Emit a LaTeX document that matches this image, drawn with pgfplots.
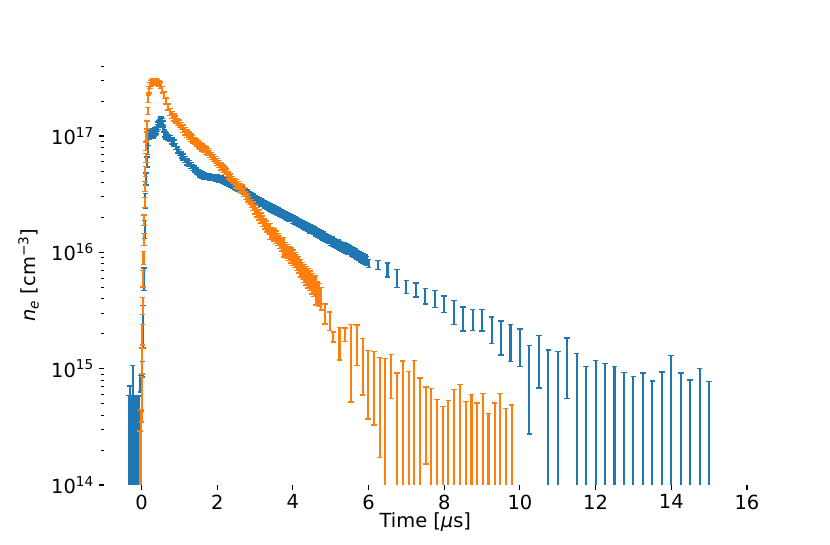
\documentclass[border=0pt]{standalone}
\usepackage{pgfplots}
\pgfplotsset{compat=1.18}
\usepackage{pgfplotstable}
\usepackage{fontspec}
\setmainfont{DejaVu Sans}
\definecolor{cblue}{RGB}{31,119,180}
\definecolor{corange}{RGB}{255,127,14}

% blue, densely sampled part: t, n_e, relative error
\pgfplotstableread{
t n r
-0.03 7.5e14 0.16
0.00 6.5e14 0.34
0.02 1.0e15 0.15
0.04 2.5e15 0.40
0.06 6.0e15 0.22
0.08 1.6e16 0.18
0.10 2.8e16 0.14
0.12 4.3e16 0.12
0.14 6.0e16 0.10
0.16 7.6e16 0.09
0.18 9.0e16 0.08
0.20 1.02e17 0.08
0.22 1.05e17 0.08
0.24 1.06e17 0.09
0.26 1.05e17 0.09
0.28 1.05e17 0.09
0.30 1.06e17 0.09
0.32 1.07e17 0.09
0.34 1.08e17 0.08
0.36 1.10e17 0.08
0.38 1.11e17 0.07
0.40 1.13e17 0.07
0.42 1.18e17 0.07
0.44 1.23e17 0.07
0.46 1.27e17 0.06
0.48 1.31e17 0.06
0.50 1.35e17 0.06
0.52 1.37e17 0.06
0.54 1.34e17 0.06
0.56 1.27e17 0.06
0.58 1.15e17 0.06
0.60 1.06e17 0.06
0.62 1.03e17 0.06
0.65 1.00e17 0.06
0.70 9.7e16 0.06
0.75 9.5e16 0.06
0.80 9.1e16 0.06
0.85 8.7e16 0.06
0.90 8.1e16 0.06
0.95 7.6e16 0.06
1.00 7.2e16 0.06
1.05 6.9e16 0.06
1.10 6.6e16 0.06
1.15 6.3e16 0.06
1.20 6.0e16 0.06
1.25 5.8e16 0.06
1.30 5.6e16 0.06
1.35 5.4e16 0.06
1.40 5.2e16 0.06
1.45 5.0e16 0.06
1.50 4.85e16 0.06
1.55 4.72e16 0.06
1.60 4.62e16 0.06
1.65 4.55e16 0.06
1.70 4.50e16 0.06
1.75 4.48e16 0.06
1.80 4.45e16 0.06
1.85 4.42e16 0.06
1.90 4.40e16 0.06
1.95 4.38e16 0.06
2.00 4.35e16 0.065
2.05 4.30e16 0.065
2.10 4.24e16 0.065
2.15 4.18e16 0.065
2.20 4.12e16 0.065
2.25 4.03e16 0.065
2.30 3.94e16 0.065
2.35 3.85e16 0.065
2.40 3.77e16 0.065
2.45 3.70e16 0.065
2.50 3.63e16 0.065
2.55 3.56e16 0.065
2.60 3.49e16 0.065
2.65 3.43e16 0.065
2.70 3.37e16 0.065
2.75 3.30e16 0.065
2.80 3.22e16 0.065
2.85 3.14e16 0.065
2.90 3.06e16 0.065
2.95 2.97e16 0.065
3.00 2.88e16 0.07
3.05 2.82e16 0.07
3.10 2.76e16 0.07
3.15 2.70e16 0.07
3.20 2.65e16 0.07
3.25 2.59e16 0.07
3.30 2.54e16 0.07
3.35 2.49e16 0.07
3.40 2.44e16 0.07
3.45 2.39e16 0.07
3.50 2.34e16 0.07
3.55 2.30e16 0.07
3.60 2.25e16 0.07
3.65 2.21e16 0.07
3.70 2.17e16 0.07
3.75 2.13e16 0.07
3.80 2.08e16 0.07
3.85 2.04e16 0.07
3.90 2.00e16 0.07
3.95 1.97e16 0.07
4.00 1.93e16 0.08
4.05 1.89e16 0.08
4.10 1.85e16 0.08
4.15 1.81e16 0.08
4.20 1.78e16 0.08
4.25 1.74e16 0.08
4.30 1.71e16 0.08
4.35 1.67e16 0.08
4.40 1.64e16 0.08
4.45 1.60e16 0.08
4.50 1.57e16 0.08
4.55 1.54e16 0.08
4.60 1.50e16 0.08
4.65 1.47e16 0.08
4.70 1.44e16 0.08
4.75 1.41e16 0.08
4.80 1.38e16 0.08
4.85 1.35e16 0.08
4.90 1.32e16 0.08
4.95 1.29e16 0.08
5.00 1.26e16 0.09
5.05 1.24e16 0.09
5.10 1.21e16 0.09
5.15 1.19e16 0.09
5.20 1.17e16 0.09
5.25 1.14e16 0.09
5.30 1.12e16 0.09
5.35 1.10e16 0.09
5.40 1.08e16 0.09
5.45 1.06e16 0.09
5.50 1.05e16 0.09
5.55 1.02e16 0.09
5.60 1.00e16 0.09
5.65 9.8e15 0.09
5.70 9.5e15 0.09
5.75 9.3e15 0.09
5.80 9.1e15 0.09
5.85 8.9e15 0.09
5.90 8.7e15 0.09
5.95 8.5e15 0.09
}\bluedense

% blue, single bars: t, n_e, error plus, error minus
\pgfplotstableread{
t n ep em
-0.34 2.95e14 2.95e14 2.85e14
-0.305 3.55e14 3.55e14 3.45e14
-0.27 2.95e14 2.95e14 2.85e14
-0.235 5.35e14 5.35e14 5.25e14
-0.20 2.95e14 2.95e14 2.85e14
-0.165 2.9e14 2.9e14 2.8e14
-0.13 2.95e14 2.95e14 2.85e14
-0.095 2.95e14 2.95e14 2.85e14
-0.06 2.9e14 2.9e14 2.8e14
6.00 8.005e15 0.625e15 0.625e15
6.25 7.80e15 0.72e15 0.72e15
6.50 7.095e15 0.975e15 0.975e15
6.75 6.02e15 1.06e15 1.06e15
7.00 5.07e15 0.66e15 0.66e15
7.25 4.78e15 0.66e15 0.66e15
7.50 4.25e15 0.64e15 0.64e15
7.75 4.02e15 0.68e15 0.68e15
8.00 3.62e15 0.58e15 0.58e15
8.25 3.13e15 0.73e15 0.73e15
8.50 2.74e15 0.64e15 0.64e15
8.75 2.67e15 0.54e15 0.54e15
9.00 2.655e15 0.555e15 0.555e15
9.25 2.205e15 0.565e15 0.565e15
9.50 1.935e15 0.625e15 0.625e15
9.75 1.775e15 0.625e15 0.625e15
10.00 1.615e15 0.575e15 0.575e15
10.25 0.927e15 0.653e15 0.653e15
10.50 1.305e15 0.625e15 0.625e15
10.75 7.25e14 7.25e14 7.15e14
11.00 7.05e14 7.05e14 6.95e14
11.25 1.197e15 0.643e15 0.643e15
11.50 6.75e14 6.75e14 6.65e14
11.75 5.2e14 5.2e14 5.1e14
12.00 5.9e14 5.9e14 5.8e14
12.25 5.55e14 5.55e14 5.45e14
12.50 5.2e14 5.2e14 5.1e14
12.75 4.61e14 4.61e14 4.51e14
13.00 4.26e14 4.26e14 4.16e14
13.25 4.575e14 4.575e14 4.475e14
13.50 3.905e14 3.905e14 3.805e14
13.75 4.665e14 4.665e14 4.565e14
14.00 6.5e14 6.5e14 6.4e14
14.25 4.575e14 4.575e14 4.475e14
14.50 3.98e14 3.98e14 3.88e14
14.75 4.99e14 4.99e14 4.89e14
15.00 3.88e14 3.88e14 3.78e14
}\bluesparse

% orange, densely sampled part
\pgfplotstableread{
t n r
0.00 6.0e14 0.42
0.01 1.2e15 0.25
0.02 2.0e15 0.20
0.03 3.5e15 0.17
0.04 6.0e15 0.16
0.05 9.0e15 0.13
0.06 1.3e16 0.12
0.07 1.9e16 0.10
0.08 2.7e16 0.10
0.09 3.7e16 0.10
0.10 5.0e16 0.10
0.11 6.5e16 0.09
0.12 8.2e16 0.08
0.13 1.0e17 0.08
0.14 1.25e17 0.08
0.16 1.65e17 0.07
0.18 2.1e17 0.07
0.20 2.5e17 0.06
0.22 2.72e17 0.06
0.24 2.82e17 0.06
0.26 2.87e17 0.06
0.28 2.90e17 0.06
0.30 2.92e17 0.06
0.34 2.93e17 0.06
0.38 2.93e17 0.06
0.42 2.90e17 0.06
0.46 2.84e17 0.06
0.50 2.74e17 0.06
0.55 2.50e17 0.06
0.60 2.25e17 0.06
0.65 2.00e17 0.06
0.70 1.78e17 0.06
0.75 1.62e17 0.07
0.80 1.52e17 0.07
0.85 1.45e17 0.07
0.90 1.39e17 0.07
0.95 1.33e17 0.07
1.00 1.28e17 0.07
1.05 1.22e17 0.07
1.10 1.16e17 0.07
1.15 1.10e17 0.07
1.20 1.05e17 0.07
1.25 1.01e17 0.07
1.30 9.7e16 0.07
1.35 9.4e16 0.07
1.40 9.1e16 0.07
1.45 8.8e16 0.07
1.50 8.5e16 0.07
1.55 8.25e16 0.07
1.60 8.0e16 0.07
1.65 7.75e16 0.07
1.70 7.5e16 0.07
1.75 7.3e16 0.07
1.80 7.0e16 0.07
1.85 6.75e16 0.07
1.90 6.5e16 0.07
1.95 6.25e16 0.07
2.00 6.0e16 0.07
2.05 5.75e16 0.07
2.10 5.5e16 0.07
2.15 5.25e16 0.07
2.20 5.05e16 0.07
2.25 4.85e16 0.07
2.30 4.6e16 0.07
2.35 4.4e16 0.07
2.40 4.2e16 0.07
2.45 4.05e16 0.07
2.50 3.9e16 0.08
2.55 3.75e16 0.08
2.60 3.6e16 0.08
2.65 3.5e16 0.08
2.70 3.3e16 0.08
2.75 3.1e16 0.08
2.80 2.95e16 0.08
2.85 2.8e16 0.08
2.90 2.65e16 0.08
2.95 2.5e16 0.08
3.00 2.35e16 0.09
3.05 2.22e16 0.09
3.10 2.1e16 0.10
3.15 1.98e16 0.10
3.20 1.86e16 0.10
3.25 1.76e16 0.10
3.30 1.68e16 0.11
3.35 1.6e16 0.11
3.40 1.53e16 0.16
3.45 1.47e16 0.11
3.50 1.42e16 0.12
3.55 1.36e16 0.12
3.60 1.3e16 0.12
3.65 1.24e16 0.13
3.70 1.18e16 0.13
3.75 1.13e16 0.19
3.80 1.08e16 0.13
3.85 1.03e16 0.14
3.90 9.9e15 0.14
3.95 9.5e15 0.15
4.00 9.1e15 0.15
4.05 8.7e15 0.15
4.10 8.3e15 0.16
4.15 7.9e15 0.16
4.20 7.4e15 0.17
4.25 7.0e15 0.17
4.30 6.7e15 0.18
4.35 6.4e15 0.18
4.40 6.1e15 0.19
4.45 5.8e15 0.19
4.50 5.5e15 0.20
4.55 5.2e15 0.20
4.60 4.9e15 0.28
4.65 4.6e15 0.21
4.70 4.4e15 0.22
4.75 4.1e15 0.22
}\orangedense

% orange, single bars
\pgfplotstableread{
t n ep em
-0.04 1.45e14 1.45e14 1.35e14
-0.02 2.2e14 2.2e14 2.1e14
4.85 3.02e15 0.59e15 0.59e15
4.97 2.595e15 0.465e15 0.465e15
5.07 1.875e15 0.185e15 0.185e15
5.23 1.73e15 0.54e15 0.54e15
5.38 1.97e15 0.26e15 0.26e15
5.53 1.4575e15 0.9425e15 0.9425e15
5.69 1.715e15 0.655e15 0.655e15
5.84 1.201e15 0.609e15 0.609e15
5.99 0.899e15 0.531e15 0.531e15
6.14 0.8635e15 0.5365e15 0.5365e15
6.29 0.706e15 0.534e15 0.534e15
6.44 6.1e14 6.1e14 6.0e14
6.60 0.9405e15 0.3895e15 0.3895e15
6.75 4.575e14 4.575e14 4.475e14
6.90 5.8e14 5.8e14 5.7e14
7.06 4.7e14 4.7e14 4.6e14
7.21 5.9e14 5.9e14 5.8e14
7.36 4.15e14 4.15e14 4.05e14
7.51 4.225e14 2.705e14 2.705e14
7.66 3.36e14 3.36e14 3.26e14
7.81 2.715e14 2.715e14 2.615e14
7.96 2.365e14 2.365e14 2.265e14
8.11 2.65e14 2.65e14 2.55e14
8.26 3.295e14 3.295e14 3.195e14
8.42 3.655e14 3.655e14 3.555e14
8.57 2.61e14 2.61e14 2.51e14
8.72 2.985e14 2.985e14 2.885e14
8.87 2.525e14 2.525e14 2.425e14
9.02 3.04e14 3.04e14 2.94e14
9.17 2.07e14 2.07e14 1.97e14
9.33 2.525e14 2.525e14 2.425e14
9.48 3.075e14 3.075e14 2.975e14
9.62 2.275e14 2.275e14 2.175e14
9.78 2.43e14 2.43e14 2.33e14
}\orangesparse

\pgfplotsset{
  ebar/.style={draw=none, mark=none, forget plot,
    error bars/error bar style={draw=#1, line width=1.5pt, solid},
    error bars/error mark options={draw=#1, rotate=90, mark size=2pt, line width=1pt}},
}

\begin{document}
\begin{tikzpicture}
\useasboundingbox (0,0) rectangle (597.6pt,392.4pt);
\begin{axis}[
  at={(74.7pt,43.2pt)}, anchor=south west,
  scale only axis, width=463.1pt, height=302.1pt,
  ymode=log,
  xmin=-1, xmax=16, ymin=1e14, ymax=4.05e17,
  axis x line*=bottom, axis y line*=left,
  axis line style={draw=none},
  tick align=outside,
  xtick pos=left, ytick pos=left,
  major tick length=3.5pt, minor tick length=2pt,
  major tick style={line width=0.8pt, black},
  minor tick style={line width=0.6pt, black},
  xtick={0,2,4,6,8,10,12,14,16},
  ytick={1e14,1e15,1e16,1e17},
  yticklabels={10\textsuperscript{14},10\textsuperscript{15},10\textsuperscript{16},10\textsuperscript{17}},
  minor ytick={2e14,3e14,4e14,5e14,6e14,7e14,8e14,9e14,
               2e15,3e15,4e15,5e15,6e15,7e15,8e15,9e15,
               2e16,3e16,4e16,5e16,6e16,7e16,8e16,9e16,
               2e17,3e17,4e17},
  /pgf/number format/assume math mode=true,
  tick label style={font=\fontsize{14}{16.8}\selectfont},
  label style={font=\fontsize{14}{16.8}\selectfont},
  xlabel={Time [\textit{μ}s]},
  ylabel={\textit{n}\textsubscript{\textit{e}} [cm\textsuperscript{−3}]},
  xlabel style={at={(axis description cs:0.5,-0.1025)}, anchor=base},
  ylabel style={at={(axis description cs:-0.1058,0.5)}, anchor=base, rotate=0},
]
\addplot[ebar=cblue, error bars/.cd, y dir=both, y explicit relative]
  table[x=t, y=n, y error=r] {\bluedense};
\addplot[ebar=cblue, error bars/.cd, y dir=both, y explicit]
  table[x=t, y=n, y error plus=ep, y error minus=em] {\bluesparse};
\addplot[ebar=corange, error bars/.cd, y dir=both, y explicit relative]
  table[x=t, y=n, y error=r] {\orangedense};
\addplot[ebar=corange, error bars/.cd, y dir=both, y explicit]
  table[x=t, y=n, y error plus=ep, y error minus=em] {\orangesparse};
\end{axis}
\end{tikzpicture}
\end{document}
